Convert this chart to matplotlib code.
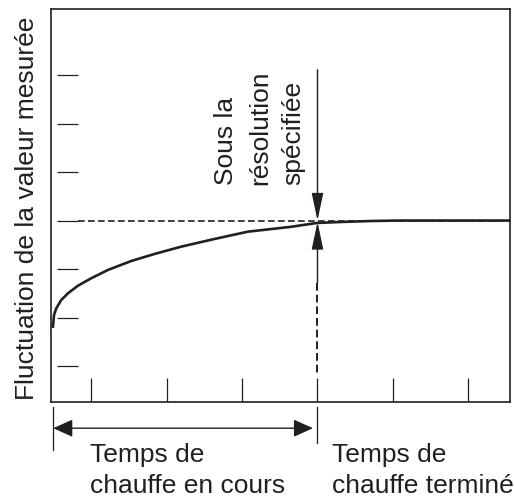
import matplotlib
matplotlib.use('Agg')
import matplotlib.pyplot as plt
from matplotlib.patches import FancyArrowPatch

plt.rcParams['font.family'] = ['Liberation Sans', 'DejaVu Sans']

# ---- data (tick units) ----
curve_x = [-0.504, -0.490, -0.460, -0.394, -0.305, -0.172, 0.004, 0.225, 0.534,
           0.843, 1.196, 1.638, 2.079, 2.636, 2.993, 3.30, 3.70, 4.09, 4.49, 5.55]
curve_y = [0.813, 1.054, 1.191, 1.363, 1.501, 1.658, 1.811, 1.982, 2.167,
           2.312, 2.462, 2.621, 2.771, 2.868, 2.95, 2.97, 2.99, 3.0, 3.0, 3.0]
x_ticks = [0, 1, 2, 3, 4, 5]
y_ticks = [0, 1, 2, 3, 4, 5, 6]
spec_level = 3.0
warmup_end = 3.0
ylabel = "Fluctuation de la valeur mesurée"
note_lines = ["Sous la", "résolution", "spécifiée"]
left_lines = ["Temps de", "chauffe en cours"]
right_lines = ["Temps de", "chauffe terminé"]

INK = '#231f20'
W, H = 514, 498

fig = plt.figure(figsize=(W / 100, H / 100), dpi=100)
ax = fig.add_axes([51 / W, (H - 402) / H, 459 / W, 393 / H])
ax.set_xlim(-0.53, 5.55)
ax.set_ylim(-0.74, 7.36)
ax.set_xticks([])
ax.set_yticks([])
for s in ax.spines.values():
    s.set_linewidth(1.2)
    s.set_color(INK)

# tick marks
ax.hlines(y_ticks, -0.45, -0.17, lw=0.9, color=INK)
ax.vlines(x_ticks, -0.74, -0.245, lw=0.9, color=INK)

# reference lines
ax.plot([-0.17, 5.55], [spec_level, spec_level], color=INK, lw=1.2, dashes=(4, 2))
ax.plot([warmup_end, warmup_end], [1.71, -0.14], color=INK, lw=1.4, dashes=(4, 2))

# curve
ax.plot(curve_x, curve_y, color=INK, lw=1.9, solid_joinstyle='round')

# vertical arrows
a1 = FancyArrowPatch((warmup_end, 6.11), (warmup_end, spec_level),
                     arrowstyle='-|>,head_length=17,head_width=3.6', mutation_scale=1,
                     lw=1.0, color=INK, shrinkA=0, shrinkB=0)
a2 = FancyArrowPatch((warmup_end, 1.71), (warmup_end, 2.97),
                     arrowstyle='-|>,head_length=17,head_width=3.6', mutation_scale=1,
                     lw=1.0, color=INK, shrinkA=0, shrinkB=0)
ax.add_patch(a1)
ax.add_patch(a2)

# bracket + horizontal double arrow below axes
ax.plot([-0.50, -0.50], [-0.84, -1.73], color=INK, lw=0.9, clip_on=False)
ax.plot([warmup_end, warmup_end], [-0.84, -1.59], color=INK, lw=0.9, clip_on=False)
a3 = FancyArrowPatch((-0.50, -1.28), (2.94, -1.28),
                     arrowstyle='<|-|>,head_length=12,head_width=5.4', mutation_scale=1,
                     lw=1.0, color=INK, shrinkA=0, shrinkB=0, clip_on=False)
ax.add_patch(a3)

FS = 19
def ftext(px, py, s, **kw):
    fig.text(px / W, 1 - py / H, s, fontsize=FS, color=INK, **kw)

ftext(34, 208, ylabel, rotation=90, rotation_mode='anchor', ha='center', va='baseline')
for bx, s in zip([233, 267, 300], note_lines):
    ftext(bx, 185, s, rotation=90, rotation_mode='anchor', ha='left', va='baseline')
for by, s in zip([462, 493], left_lines):
    ftext(90, by, s, ha='left', va='baseline')
for by, s in zip([462, 493], right_lines):
    ftext(332, by, s, ha='left', va='baseline')

fig.savefig('out.png', dpi=100)
